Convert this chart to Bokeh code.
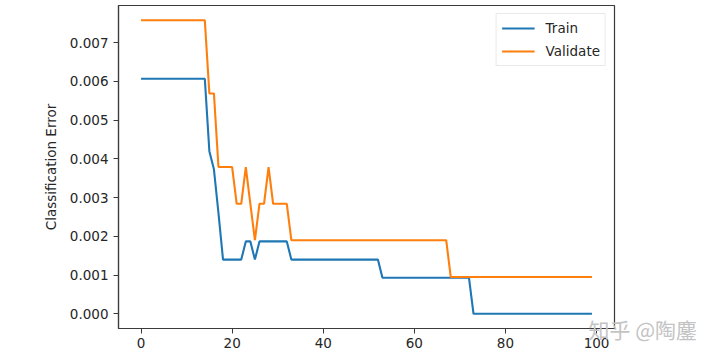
from bokeh.plotting import figure
from bokeh.models import (Range1d, FixedTicker, PrintfTickFormatter, Legend, LegendItem,
                          LinearAxis)
from bokeh.embed import file_html
from bokeh.resources import INLINE

epochs = list(range(100))

train_error = [
    0.00607, 0.00607, 0.00607, 0.00607, 0.00607, 0.00607, 0.00607, 0.00607, 0.00607, 0.00607,
    0.00607, 0.00607, 0.00607, 0.00607, 0.00607, 0.00420, 0.00373, 0.00260, 0.00140, 0.00140,
    0.00140, 0.00140, 0.00140, 0.00187, 0.00187, 0.00140, 0.00187, 0.00187, 0.00187, 0.00187,
    0.00187, 0.00187, 0.00187, 0.00140, 0.00140, 0.00140, 0.00140, 0.00140, 0.00140, 0.00140,
    0.00140, 0.00140, 0.00140, 0.00140, 0.00140, 0.00140, 0.00140, 0.00140, 0.00140, 0.00140,
    0.00140, 0.00140, 0.00140, 0.00093, 0.00093, 0.00093, 0.00093, 0.00093, 0.00093, 0.00093,
    0.00093, 0.00093, 0.00093, 0.00093, 0.00093, 0.00093, 0.00093, 0.00093, 0.00093, 0.00093,
    0.00093, 0.00093, 0.00093, 0.0, 0.0, 0.0, 0.0, 0.0, 0.0, 0.0,
    0.0, 0.0, 0.0, 0.0, 0.0, 0.0, 0.0, 0.0, 0.0, 0.0,
    0.0, 0.0, 0.0, 0.0, 0.0, 0.0, 0.0, 0.0, 0.0, 0.0,
]

validate_error = [
    0.00758, 0.00758, 0.00758, 0.00758, 0.00758, 0.00758, 0.00758, 0.00758, 0.00758, 0.00758,
    0.00758, 0.00758, 0.00758, 0.00758, 0.00758, 0.00569, 0.00569, 0.00379, 0.00379, 0.00379,
    0.00379, 0.00284, 0.00284, 0.00379, 0.00284, 0.00190, 0.00284, 0.00284, 0.00379, 0.00284,
    0.00284, 0.00284, 0.00284, 0.00190, 0.00190, 0.00190, 0.00190, 0.00190, 0.00190, 0.00190,
    0.00190, 0.00190, 0.00190, 0.00190, 0.00190, 0.00190, 0.00190, 0.00190, 0.00190, 0.00190,
    0.00190, 0.00190, 0.00190, 0.00190, 0.00190, 0.00190, 0.00190, 0.00190, 0.00190, 0.00190,
    0.00190, 0.00190, 0.00190, 0.00190, 0.00190, 0.00190, 0.00190, 0.00190, 0.00095, 0.00095,
    0.00095, 0.00095, 0.00095, 0.00095, 0.00095, 0.00095, 0.00095, 0.00095, 0.00095, 0.00095,
    0.00095, 0.00095, 0.00095, 0.00095, 0.00095, 0.00095, 0.00095, 0.00095, 0.00095, 0.00095,
    0.00095, 0.00095, 0.00095, 0.00095, 0.00095, 0.00095, 0.00095, 0.00095, 0.00095, 0.00095,
]

x_ticks = [0, 20, 40, 60, 80, 100]
y_ticks = [0.0, 0.001, 0.002, 0.003, 0.004, 0.005, 0.006, 0.007]
series_names = ["Train", "Validate"]
series_colors = ["#1f77b4", "#ff7f0e"]
watermark = "知乎  @陶鏖"

FONT = "DejaVu Sans"
TXT = "#262626"

p = figure(width=720, height=364, output_backend="svg", toolbar_location=None,
           x_range=Range1d(-4.95, 103.95), y_range=Range1d(-0.000379, 0.00796),
           min_border_left=118, min_border_right=106, min_border_top=5, min_border_bottom=36)

r1 = p.line(epochs, train_error, line_color=series_colors[0], line_width=2.1)
r2 = p.line(epochs, validate_error, line_color=series_colors[1], line_width=2.1)

legend = Legend(items=[LegendItem(label=series_names[0], renderers=[r1]),
                       LegendItem(label=series_names[1], renderers=[r2])],
                location="top_right")
legend.margin = 8
legend.padding = 5
legend.spacing = 5
legend.glyph_width = 33
legend.glyph_height = 18
legend.label_standoff = 11
legend.label_text_font = FONT
legend.label_text_font_size = "13.5px"
legend.label_text_color = TXT
legend.border_line_color = "#d4d4d4"
legend.border_line_width = 1
legend.background_fill_color = "white"
legend.background_fill_alpha = 0.85
p.add_layout(legend)

p.xgrid.visible = False
p.ygrid.visible = False
p.outline_line_color = "#3a3a3a"
p.outline_line_width = 1.2

p.xaxis.ticker = FixedTicker(ticks=x_ticks)
p.yaxis.ticker = FixedTicker(ticks=y_ticks)
p.yaxis.formatter = PrintfTickFormatter(format="%.3f")
p.yaxis.axis_label = "Classification Error"

for ax in (p.xaxis, p.yaxis):
    ax.axis_line_color = "#3a3a3a"
    ax.axis_line_width = 1.2
    ax.major_tick_line_color = "#3a3a3a"
    ax.major_tick_out = 5
    ax.major_tick_in = 0
    ax.minor_tick_line_color = None
    ax.major_label_text_font = FONT
    ax.major_label_text_font_size = "13.5px"
    ax.major_label_text_color = TXT
    ax.axis_label_text_font = FONT
    ax.axis_label_text_font_size = "13.5px"
    ax.axis_label_text_font_style = "normal"
    ax.axis_label_text_color = TXT

p.xaxis.major_label_standoff = 4
p.yaxis.major_label_standoff = 5
p.yaxis.axis_label_standoff = 8

# watermark, carried by a bare axis on the right so that it is not clipped to the frame
p.extra_y_ranges = {"wm": Range1d(0, 1)}
wm_axis = LinearAxis(y_range_name="wm", ticker=FixedTicker(ticks=[0]),
                     major_label_overrides={0: watermark})
wm_axis.axis_line_color = None
wm_axis.major_tick_line_color = None
wm_axis.minor_tick_line_color = None
wm_axis.major_tick_out = 0
wm_axis.major_tick_in = 0
wm_axis.major_label_standoff = -26
wm_axis.major_label_text_font = "Noto Sans CJK SC"
wm_axis.major_label_text_font_size = "21px"
wm_axis.major_label_text_color = "#c4c4c4"
p.add_layout(wm_axis, "right")

open("out.html", "w").write(file_html(p, INLINE))
